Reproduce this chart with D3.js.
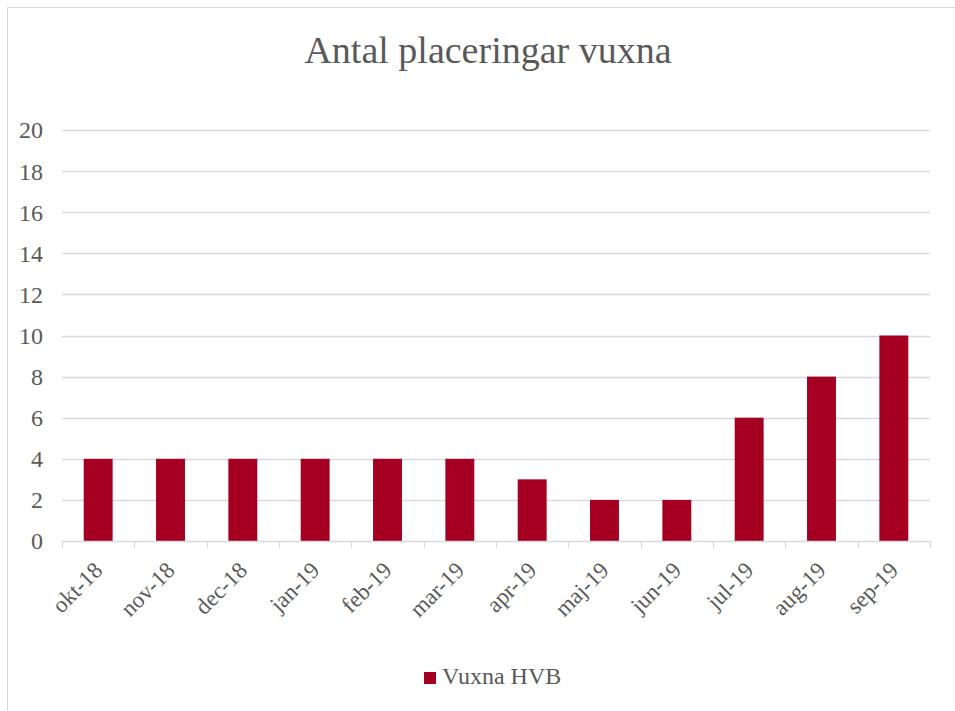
<!DOCTYPE html>
<html lang="sv">
<head>
<meta charset="utf-8">
<title>Antal placeringar vuxna</title>
<script src="https://cdn.jsdelivr.net/npm/d3@7"></script>
<style>
  body { margin: 0; background: #fff; }
  text { font-family: "Liberation Serif", "Times New Roman", serif; fill: #595959; }
</style>
</head>
<body>
<svg></svg>
<script>
// data
var months = ["okt-18", "nov-18", "dec-18", "jan-19", "feb-19", "mar-19",
              "apr-19", "maj-19", "jun-19", "jul-19", "aug-19", "sep-19"];
var vuxnaHVB = [4, 4, 4, 4, 4, 4, 3, 2, 2, 6, 8, 10];
var yTicks = [0, 2, 4, 6, 8, 10, 12, 14, 16, 18, 20];
var seriesName = "Vuxna HVB";

var width = 955, height = 711;
var margin = {top: 130, right: 25, bottom: 170, left: 62};
var barColor = "#A50021";

var svg = d3.select("svg").attr("width", width).attr("height", height);

// outer chart border
svg.append("rect")
  .attr("x", 7.5).attr("y", 7.5)
  .attr("width", width + 10).attr("height", height + 10)
  .attr("fill", "none").attr("stroke", "#d9d9d9");

var x = d3.scaleBand()
  .domain(months)
  .range([margin.left, width - margin.right])
  .paddingInner(0.6).paddingOuter(0.3);

var y = d3.scaleLinear()
  .domain([0, 20])
  .range([height - margin.bottom, margin.top]);

// title
svg.append("text")
  .attr("x", 488).attr("y", 63)
  .attr("text-anchor", "middle")
  .style("font-size", "38px")
  .text("Antal placeringar vuxna");

// gridlines
svg.append("g").selectAll("line")
  .data(yTicks.slice(1))
  .enter().append("line")
  .attr("x1", margin.left).attr("x2", width - margin.right)
  .attr("y1", function(d) { return Math.round(y(d)) + 0.5; })
  .attr("y2", function(d) { return Math.round(y(d)) + 0.5; })
  .attr("stroke", "#d9d9d9").attr("stroke-width", 1.3);

// y labels
svg.append("g").selectAll("text")
  .data(yTicks)
  .enter().append("text")
  .attr("x", 43)
  .attr("y", function(d) { return y(d); })
  .attr("dy", "0.35em")
  .attr("text-anchor", "end")
  .style("font-size", "24px")
  .text(function(d) { return d; });

// bars
svg.append("g").selectAll("rect")
  .data(vuxnaHVB)
  .enter().append("rect")
  .attr("x", function(d, i) { return x(months[i]); })
  .attr("width", x.bandwidth())
  .attr("y", function(d) { return y(d); })
  .attr("height", function(d) { return y(0) - y(d); })
  .attr("fill", barColor);

// x axis line and ticks
var step = (width - margin.right - margin.left) / months.length;
var axis = svg.append("g");
axis.append("line")
  .attr("x1", margin.left).attr("x2", width - margin.right)
  .attr("y1", y(0) + 0.5).attr("y2", y(0) + 0.5)
  .attr("stroke", "#d9d9d9").attr("stroke-width", 1.3);
axis.selectAll("line.tick")
  .data(d3.range(months.length + 1))
  .enter().append("line")
  .attr("class", "tick")
  .attr("x1", function(i) { return Math.round(margin.left + i * step) + 0.5; })
  .attr("x2", function(i) { return Math.round(margin.left + i * step) + 0.5; })
  .attr("y1", y(0)).attr("y2", y(0) + 7)
  .attr("stroke", "#d9d9d9").attr("stroke-width", 1.3);

// x labels, rotated
axis.selectAll("text")
  .data(months)
  .enter().append("text")
  .attr("transform", function(d) {
    return "translate(" + (x(d) + x.bandwidth() / 2) + "," + (y(0) + 25) + ") rotate(-45)";
  })
  .attr("text-anchor", "end")
  .attr("dy", "0.35em")
  .style("font-size", "23px")
  .text(function(d) { return d; });

// legend
var legend = svg.append("g").attr("transform", "translate(424,672)");
legend.append("rect")
  .attr("width", 12).attr("height", 12)
  .attr("fill", barColor);
legend.append("text")
  .attr("x", 18).attr("y", 12)
  .style("font-size", "24px")
  .text(seriesName);
</script>
</body>
</html>
